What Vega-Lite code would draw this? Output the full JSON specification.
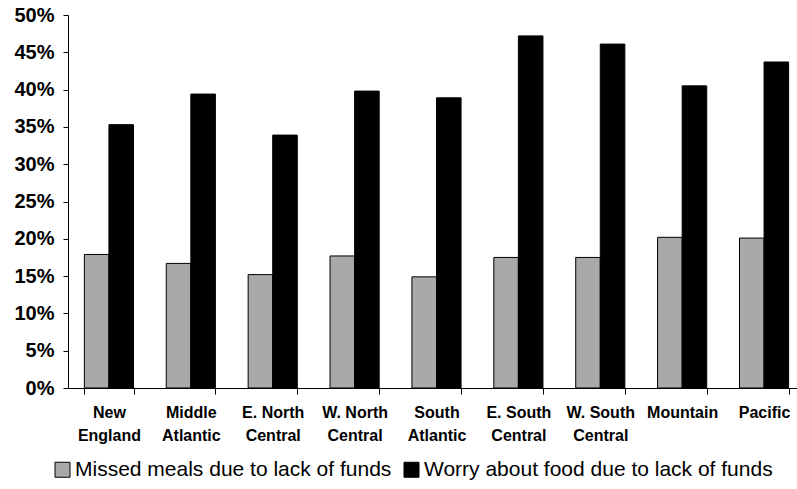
{
  "$schema": "https://vega.github.io/schema/vega-lite/v6.json",
  "width": 729,
  "height": 373,
  "autosize": "none",
  "padding": {"left": 68, "top": 15, "right": 0, "bottom": 101},
  "background": "white",
  "data": {
    "values": [
      {"region": "New England", "series": "Missed meals due to lack of funds", "value": 0.179},
      {"region": "New England", "series": "Worry about food due to lack of funds", "value": 0.353},
      {"region": "Middle Atlantic", "series": "Missed meals due to lack of funds", "value": 0.167},
      {"region": "Middle Atlantic", "series": "Worry about food due to lack of funds", "value": 0.394},
      {"region": "E. North Central", "series": "Missed meals due to lack of funds", "value": 0.152},
      {"region": "E. North Central", "series": "Worry about food due to lack of funds", "value": 0.339},
      {"region": "W. North Central", "series": "Missed meals due to lack of funds", "value": 0.177},
      {"region": "W. North Central", "series": "Worry about food due to lack of funds", "value": 0.398},
      {"region": "South Atlantic", "series": "Missed meals due to lack of funds", "value": 0.149},
      {"region": "South Atlantic", "series": "Worry about food due to lack of funds", "value": 0.389},
      {"region": "E. South Central", "series": "Missed meals due to lack of funds", "value": 0.175},
      {"region": "E. South Central", "series": "Worry about food due to lack of funds", "value": 0.472},
      {"region": "W. South Central", "series": "Missed meals due to lack of funds", "value": 0.175},
      {"region": "W. South Central", "series": "Worry about food due to lack of funds", "value": 0.461},
      {"region": "Mountain", "series": "Missed meals due to lack of funds", "value": 0.202},
      {"region": "Mountain", "series": "Worry about food due to lack of funds", "value": 0.405},
      {"region": "Pacific", "series": "Missed meals due to lack of funds", "value": 0.201},
      {"region": "Pacific", "series": "Worry about food due to lack of funds", "value": 0.437}
    ]
  },
  "mark": {"type": "bar", "stroke": "black", "strokeWidth": 1},
  "encoding": {
    "x": {
      "field": "region",
      "type": "nominal",
      "sort": null,
      "scale": {"range": [0, 737], "paddingInner": 0.4, "paddingOuter": 0.2},
      "axis": {
        "title": null,
        "labelAngle": 0,
        "ticks": true,
        "tickBand": "extent",
        "labelExpr": "lastindexof(datum.label, ' ') > 0 ? [substring(datum.label, 0, lastindexof(datum.label, ' ')), substring(datum.label, lastindexof(datum.label, ' ') + 1)] : datum.label",
        "labelFont": "Liberation Sans",
        "labelFontWeight": "bold",
        "labelFontSize": 16,
        "labelLineHeight": 23,
        "labelColor": "black",
        "labelPadding": 10,
        "tickSize": 6,
        "tickColor": "black",
        "domainColor": "black",
        "labelBaseline": "top"
      }
    },
    "xOffset": {"field": "series", "type": "nominal", "scale": {"paddingInner": 0}, "sort": null},
    "y": {
      "field": "value",
      "type": "quantitative",
      "scale": {"domain": [0, 0.5]},
      "axis": {
        "title": null,
        "format": ".0%",
        "values": [0, 0.05, 0.1, 0.15, 0.2, 0.25, 0.3, 0.35, 0.4, 0.45, 0.5],
        "grid": false,
        "labelFont": "Liberation Sans",
        "labelFontWeight": "bold",
        "labelFontSize": 20,
        "labelColor": "black",
        "labelPadding": 9,
        "tickSize": 5,
        "tickColor": "black",
        "domainColor": "black"
      }
    },
    "color": {
      "field": "series",
      "type": "nominal",
      "sort": null,
      "scale": {
        "domain": ["Missed meals due to lack of funds", "Worry about food due to lack of funds"],
        "range": ["#a9a9a9", "#000000"]
      },
      "legend": {
        "title": null,
        "orient": "none",
        "direction": "horizontal",
        "legendX": -16,
        "legendY": 444,
        "symbolType": "square",
        "symbolSize": 225,
        "symbolStrokeColor": "black",
        "symbolStrokeWidth": 1,
        "symbolOpacity": 1,
        "labelFont": "Liberation Sans",
        "labelFontSize": 21,
        "labelColor": "black",
        "labelOffset": 2,
        "columnPadding": 9,
        "labelLimit": 500
      }
    }
  },
  "config": {"view": {"stroke": null}}
}
